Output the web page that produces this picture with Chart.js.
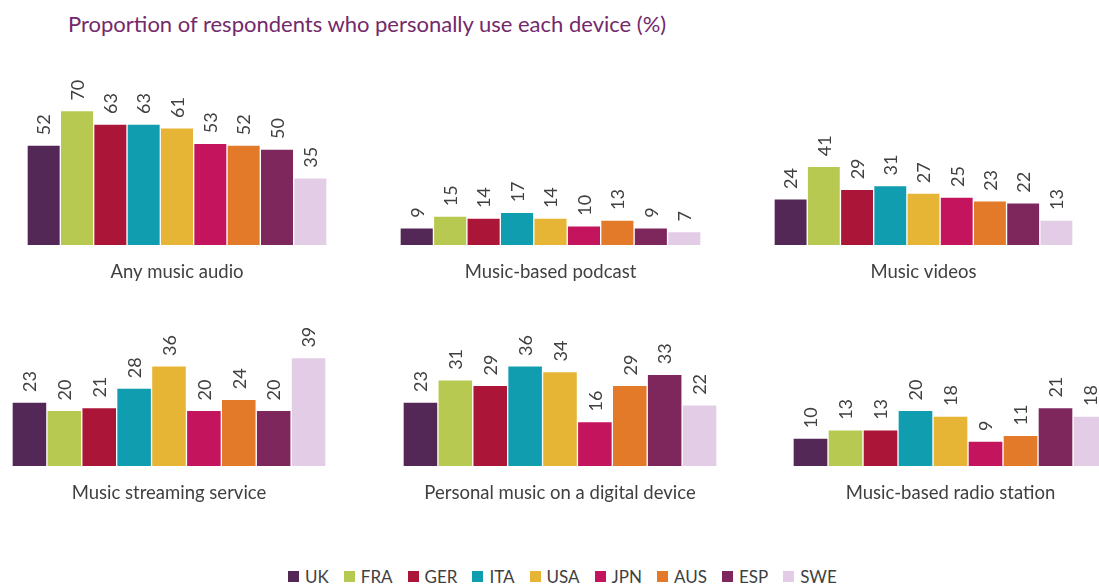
<!DOCTYPE html>
<html>
<head>
<meta charset="utf-8">
<script src="https://cdn.jsdelivr.net/npm/chart.js@4/dist/chart.umd.min.js"></script>
<style>
  html, body { margin: 0; padding: 0; background: #fff; overflow: hidden; }
  body { width: 1099px; height: 585px; position: relative; font-family: Lato, 'Noto Sans', sans-serif; }
  #title { position: absolute; left: 68px; top: 10px; font-size: 22px; color: #73296b; white-space: nowrap; }
  .panel { position: absolute; }
  #legend { position: absolute; left: 288px; top: 566px; display: flex; font-size: 17px; color: #404040; white-space: nowrap; }
  #legend span.item { display: flex; align-items: center; margin-right: 15px; }
  #legend span.sw { width: 11px; height: 11px; display: inline-block; margin-right: 6px; }
</style>
</head>
<body>
<div id="title">Proportion of respondents who personally use each device (%)</div>
<div id="legend"></div>
<script>
// Countries (series) and colours
const countries = ['UK', 'FRA', 'GER', 'ITA', 'USA', 'JPN', 'AUS', 'ESP', 'SWE']
const colors = ['#532756', '#b8c951', '#ab1638', '#109db0', '#e6b535', '#c5145e', '#e27a2a', '#7e275c', '#e3cce6']

// Panel categories
const categories = [
  'Any music audio',
  'Music-based podcast',
  'Music videos',
  'Music streaming service',
  'Personal music on a digital device',
  'Music-based radio station',
]

// Values per panel, in country order
const anyMusicAudio = [52, 70, 63, 63, 61, 53, 52, 50, 35]
const musicPodcast = [9, 15, 14, 17, 14, 10, 13, 9, 7]
const musicVideos = [24, 41, 29, 31, 27, 25, 23, 22, 13]
const streamingService = [23, 20, 21, 28, 36, 20, 24, 20, 39]
const personalMusic = [23, 31, 29, 36, 34, 16, 29, 33, 22]
const radioStation = [10, 13, 13, 20, 18, 9, 11, 21, 18]

const panelValues = [anyMusicAudio, musicPodcast, musicVideos, streamingService, personalMusic, radioStation]

// Layout of each panel: left, top, width, height, y max, top padding
const layouts = [
  { left: 27, top: 40, width: 300, height: 250, max: 80, padTop: 51.4 },
  { left: 400, top: 40, width: 301, height: 250, max: 80, padTop: 51.4 },
  { left: 774, top: 40, width: 299, height: 250, max: 80, padTop: 51.4 },
  { left: 12, top: 300, width: 314, height: 211, max: 40, padTop: 54.8 },
  { left: 403, top: 300, width: 314, height: 211, max: 40, padTop: 54.8 },
  { left: 793, top: 300, width: 315, height: 211, max: 40, padTop: 54.8 },
]

const FONT = 'Lato, "Noto Sans", sans-serif'
const TEXT_COLOR = '#404040'

// Rotated value labels above each bar
const rotatedLabels = {
  id: 'rotatedLabels',
  afterDatasetsDraw(chart) {
    const ctx = chart.ctx
    ctx.save()
    ctx.font = '18px ' + FONT
    ctx.fillStyle = TEXT_COLOR
    ctx.textAlign = 'left'
    ctx.textBaseline = 'middle'
    chart.data.datasets.forEach((ds, i) => {
      const meta = chart.getDatasetMeta(i)
      meta.data.forEach((bar, j) => {
        ctx.save()
        ctx.translate(bar.x + 1, bar.y - 10)
        ctx.rotate(-Math.PI / 2)
        ctx.fillText(String(ds.data[j]), 0, 0)
        ctx.restore()
      })
    })
    ctx.restore()
  },
}

categories.forEach((cat, p) => {
  const lay = layouts[p]
  const wrap = document.createElement('div')
  wrap.className = 'panel'
  wrap.style.left = lay.left + 'px'
  wrap.style.top = lay.top + 'px'
  wrap.style.width = lay.width + 'px'
  wrap.style.height = lay.height + 'px'
  const canvas = document.createElement('canvas')
  canvas.id = 'panel' + p
  wrap.appendChild(canvas)
  document.body.appendChild(wrap)

  new Chart(canvas.getContext('2d'), {
    type: 'bar',
    data: {
      labels: [cat],
      datasets: countries.map((c, i) => ({
        label: c,
        data: [panelValues[p][i]],
        backgroundColor: colors[i],
        borderColor: 'rgba(255,255,255,0.7)',
        borderWidth: 1,
        categoryPercentage: 1,
        barPercentage: 1,
      })),
    },
    options: {
      responsive: true,
      maintainAspectRatio: false,
      animation: false,
      layout: { padding: { top: lay.padTop, left: 0, right: 0, bottom: 0 } },
      plugins: {
        legend: { display: false },
        tooltip: { enabled: false },
      },
      scales: {
        x: {
          grid: { display: false, drawTicks: false },
          border: { display: false },
          ticks: {
            color: TEXT_COLOR,
            font: { family: FONT, size: 18.5 },
            padding: 16,
          },
          afterFit(scale) { scale.height = 45 },
        },
        y: {
          display: false,
          min: 0,
          max: lay.max,
        },
      },
    },
    plugins: [rotatedLabels],
  })
})

// Legend
const legend = document.getElementById('legend')
countries.forEach((c, i) => {
  const item = document.createElement('span')
  item.className = 'item'
  item.innerHTML = '<span class="sw" style="background:' + colors[i] + '"></span>' + c
  legend.appendChild(item)
})
</script>
</body>
</html>
